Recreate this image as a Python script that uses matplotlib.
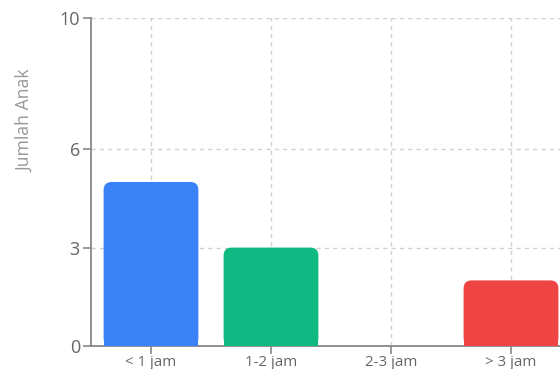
import matplotlib
matplotlib.use("Agg")
import matplotlib.pyplot as plt
from matplotlib.patches import FancyBboxPatch, Rectangle

plt.rcParams['font.family'] = ['Open Sans', 'DejaVu Sans']

categories = ["< 1 jam", "1-2 jam", "2-3 jam", "> 3 jam"]
values = [5, 3, 0, 2]
colors = ["#3b82f6", "#10b981", "#9ca3af", "#ef4444"]
yticks = [0, 3, 6, 10]

W, H = 560, 369
fig = plt.figure(figsize=(W / 100, H / 100), dpi=100)
ax_left, ax_right, ax_top, ax_bottom = 91, 571, 18, 346
ax = fig.add_axes([ax_left / W, (H - ax_bottom) / H,
                   (ax_right - ax_left) / W, (ax_bottom - ax_top) / H])

x = list(range(len(categories)))
bars = ax.bar(x, values, width=0.79, color=colors, alpha=0)
ax.set_xlim(-0.5, len(categories) - 0.5)
ax.set_ylim(0, 10)

px_x = (len(categories)) / (ax_right - ax_left)
px_y = 10 / (ax_bottom - ax_top)
aspect = px_y / px_x
r = 8 * px_x
for b, c in zip(bars, colors):
    h = b.get_height()
    if h <= 0:
        continue
    x0, w = b.get_x(), b.get_width()
    p = FancyBboxPatch((x0, 0), w, h,
                       boxstyle=f"round,pad=0,rounding_size={r}",
                       mutation_aspect=aspect, facecolor=c, edgecolor="none",
                       zorder=3)
    ax.add_patch(p)
    ax.add_patch(Rectangle((x0, 0), w, min(h, 0.5), facecolor=c,
                           edgecolor="none", zorder=3))

ax.set_yticks(yticks)
ax.set_xticks(x)
ax.set_xticklabels(categories)
ax.grid(True, color="#d0d0d0", linestyle=(0, (3, 3)), linewidth=1, zorder=0)
ax.set_axisbelow(True)
for s in ["top", "right"]:
    ax.spines[s].set_visible(False)
for s in ["left", "bottom"]:
    ax.spines[s].set_color("#888888")
    ax.spines[s].set_linewidth(1.3)
ax.tick_params(axis="y", colors="#888888", labelcolor="#666666",
               labelsize=13, length=6, width=1.2, pad=2)
ax.tick_params(axis="x", colors="#888888", labelcolor="#666666",
               labelsize=10.8, length=6, width=1.2, pad=0.5)
fig.text(25 / W, 1 - 121 / H, "Jumlah Anak", rotation=90, color="#999999",
         fontsize=12.7, ha="center", va="center")

fig.savefig("out.png", dpi=100)
